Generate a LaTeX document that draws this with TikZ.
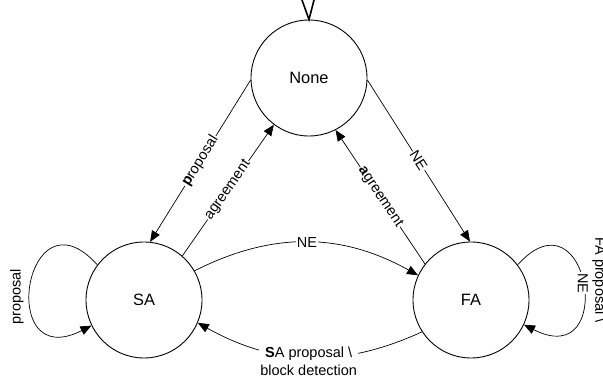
\documentclass[tikz,border=0pt]{standalone}
\usepackage{fontspec}
\setmainfont{Liberation Sans}
\usetikzlibrary{arrows.meta}
\begin{document}
\begin{tikzpicture}[x=1pt,y=1pt,
  state/.style={circle, draw, line width=0.9pt, minimum size=116pt, inner sep=0pt, font=\fontsize{16.4}{19}\selectfont},
  edge/.style={line width=0.7pt, -{Triangle[length=11pt,width=9pt]}},
  lbl/.style={font=\fontsize{14.5}{18}\selectfont, fill=white, inner sep=1pt},
  plainlbl/.style={font=\fontsize{14.5}{18}\selectfont, inner sep=1pt},
]
\useasboundingbox (0,0) rectangle (603,383);
\node[state] (None) at (309,305) {None};
\node[state] (SA) at (144,83) {SA};
\node[state] (FA) at (471,83) {FA};
\coordinate (vL) at (302,383);
\coordinate (vR) at (314,383);
\draw[line width=1.6pt] (vL) -- (None.north) -- (vR);
\draw[edge] (None.182) -- node[lbl, sloped] (l1) {\textbf{p}roposal} (SA.84);
\draw[edge] (SA.49) -- node[lbl, sloped] (l2) {agreement} (None.233);
\draw[edge] (None.358) -- node[lbl, sloped] (l3) {NE} (FA.91);
\draw[edge] (FA.142) -- node[lbl, sloped] (l4) {\textbf{a}greement} (None.297);
\draw[edge] (SA.30) to[bend left=28] node[lbl] (l5) {NE} (FA.155);
\draw[edge] (FA.213) to[bend left=27] node[lbl, align=center, yshift=-4pt] (l6) {\textbf{S}A proposal \textbackslash\\block detection} (SA.337);
\draw[edge] (SA.143) .. controls +(132:108) and +(207:108) .. (SA.206);
\node[plainlbl, rotate=90] (saLoopLbl) at (17,86) {proposal};
\draw[edge] (FA.37) .. controls +(48:106) and +(333:106) .. node[lbl, rotate=-90] (faLoopNE) {NE} (FA.335);
\node[plainlbl, rotate=-90] (faLoopLbl) at (599,103) {FA proposal \textbackslash};
\end{tikzpicture}
\end{document}
